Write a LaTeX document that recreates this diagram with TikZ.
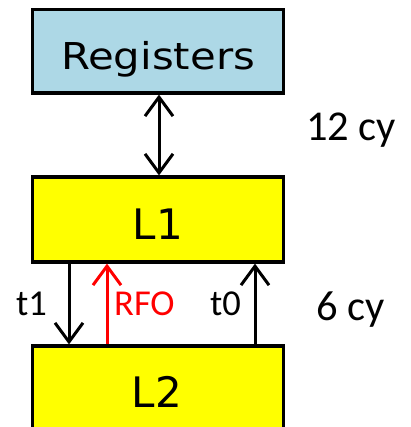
\documentclass[tikz,border=0pt]{standalone}
\usepackage{fontspec}
\usepackage{graphicx}
\usetikzlibrary{arrows.meta}
\newfontfamily\boxfont{DejaVu Sans}
\newfontfamily\labfont{Carlito}
\definecolor{regblue}{RGB}{173,216,230}
\definecolor{cacheyellow}{RGB}{255,255,0}
\definecolor{rfored}{RGB}{255,0,0}
\tikzset{
  box/.style={draw=black, line width=3.2pt, minimum width=251.5pt, inner sep=0pt},
  boxtext/.style={anchor=base, inner sep=0pt, font=\boxfont\fontsize{42}{46}\selectfont},
  lab/.style={anchor=base west, inner sep=0pt, font=\labfont\fontsize{42.5}{46}\selectfont},
  smalllab/.style={anchor=base west, inner sep=0pt, font=\labfont\fontsize{36.5}{40}\selectfont},
  arr/.style={line width=3pt, -{Straight Barb[length=19pt,width=28pt]}},
  dblarr/.style={line width=3pt, {Straight Barb[length=19pt,width=28pt]}-{Straight Barb[length=19pt,width=28pt]}}
}
\begin{document}
\begin{tikzpicture}[x=1pt,y=-1pt]
\useasboundingbox (0,0) rectangle (410,427);
\clip (0,0) rectangle (410,427);
\fill[white] (0,0) rectangle (410,427);
\node[box, fill=regblue, minimum height=83.5pt] (reg) at (158,51.25) {};
\node[box, fill=cacheyellow, minimum height=85pt] (l1) at (158,219.5) {};
\node[box, fill=cacheyellow, minimum height=99pt] (l2) at (158,395.5) {};
\node[boxtext, font=\boxfont\fontsize{37}{40}\selectfont] (regt) at (158,70) {\scalebox{1.13}[1]{Registers}};
\node[boxtext] (l1t) at (158,239) {L1};
\node[boxtext] (l2t) at (157,407) {L2};
\draw[dblarr] ([xshift=1pt]reg.south) -- ([xshift=1pt]l1.north);
\draw[arr] ([xshift=-89pt]l1.south) -- ([xshift=-89pt]l2.north);
\draw[arr, draw=rfored] ([xshift=-51pt]l2.north) -- ([xshift=-51pt]l1.south);
\draw[arr] ([xshift=97pt]l2.north) -- ([xshift=97pt]l1.south);
\node[lab] (c12) at (306,141) {12 cy};
\node[lab] (c6) at (316,320) {6 cy};
\node[smalllab] (t1) at (16,315) {t1};
\node[smalllab, text=rfored] (rfo) at (114,315) {RFO};
\node[smalllab] (t0) at (210,315) {t0};
\end{tikzpicture}
\end{document}
